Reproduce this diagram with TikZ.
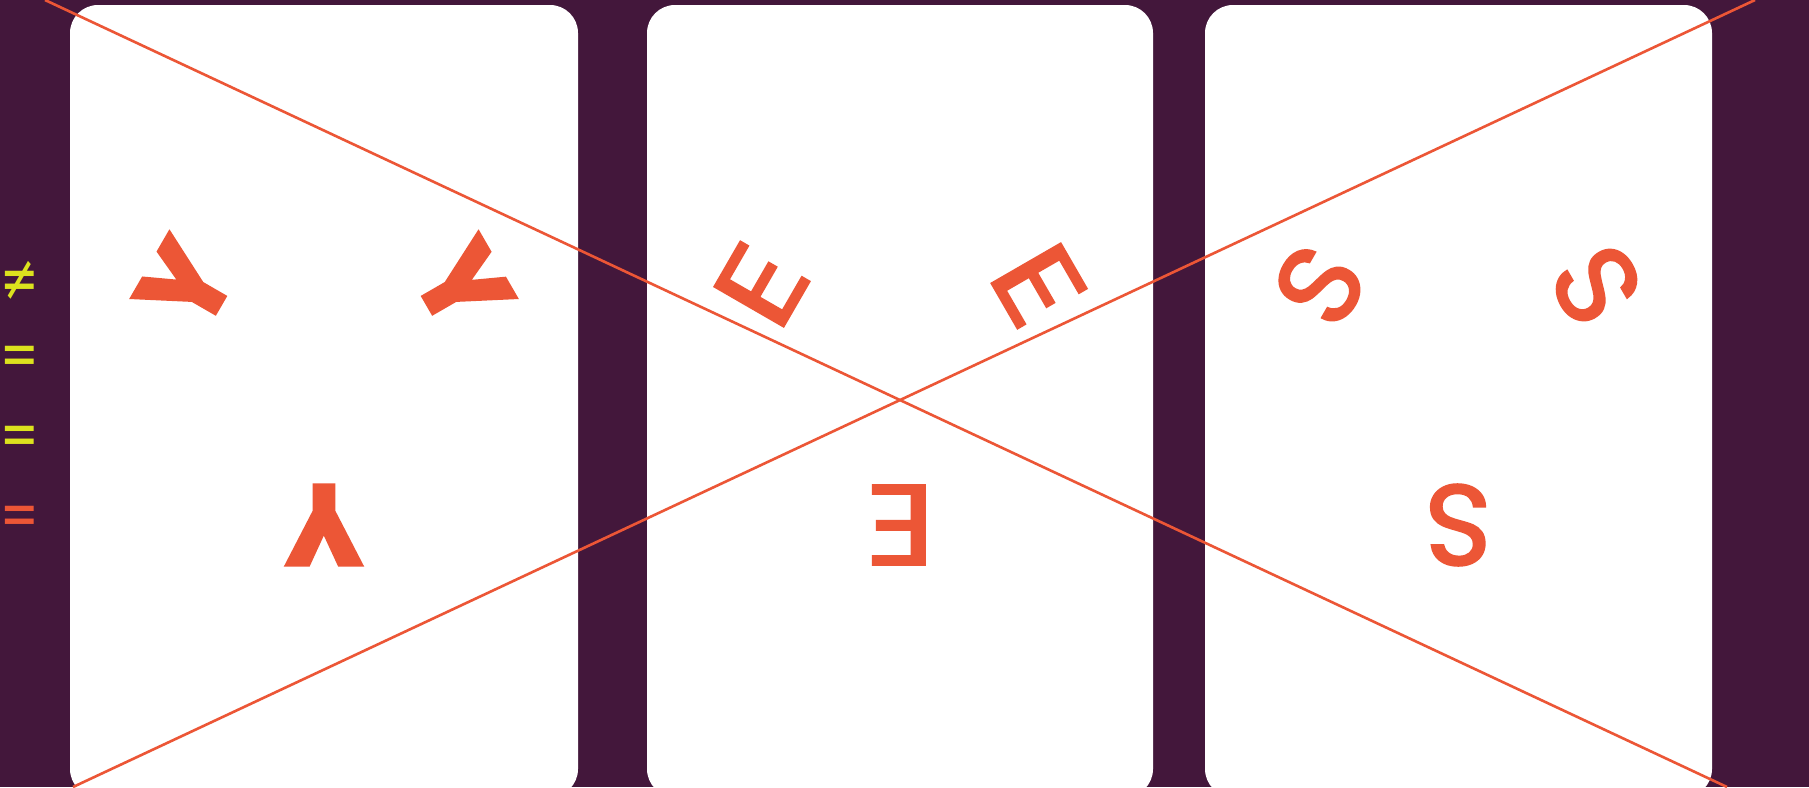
\documentclass[tikz,border=0pt]{standalone}
\usepackage{fontspec}
\setmainfont{Poppins}
\newfontfamily\heavyfont{Poppins}[BoldFeatures={FakeBold=3}]
\newfontfamily\midfont{Poppins}[FakeBold=2]
\newfontfamily\symfont{DejaVu Sans}
\definecolor{plum}{HTML}{43173B}
\definecolor{coral}{HTML}{EC5636}
\definecolor{lime}{HTML}{DCE21E}
\newcommand{\wideE}{\scalebox{1.2}[1]{E}}

\begin{document}
\begin{tikzpicture}[x=1pt, y=-1pt, every node/.style={inner sep=0pt},
    card/.style={fill=white, rounded corners=28pt},
    glyph/.style={text=coral, font=\fontsize{114}{114}\selectfont},
    sign/.style={font=\symfont\itshape\fontsize{46}{46}\selectfont},
    cross/.style={draw=coral, line width=2.6pt}]

  % Background and page size
  \fill[plum] (0,0) rectangle (1809,787);
  \useasboundingbox (0,0) rectangle (1809,787);

  % Three cards
  \fill[card] (70,5) rectangle (578,797);
  \fill[card] (647,5) rectangle (1153,797);
  \fill[card] (1205,5) rectangle (1712,797);

  % Letters turned round each card's centre
  \foreach \ch/\cx/\fnt/\txt in {Y/324/\heavyfont\bfseries/Y, E/900/\midfont/\wideE, S/1458/\midfont/S} {
    \foreach \ang/\pos in {150/left, 30/right, 270/bottom}
      \node[glyph, rotate=\ang-90] (\ch-\pos)
        at ({\cx+160*cos(\ang)}, {365-160*sin(\ang)}) {\fnt\txt};
  }

  % Signs on the left edge
  \node[sign, text=lime] (neq) at (20,281) {\scalebox{1}[1.4]{≠}};
  \node[sign, text=lime] (eq-one) at (20,361) {\scalebox{1}[1.4]{=}};
  \node[sign, text=lime] (eq-two) at (20,441) {\scalebox{1}[1.4]{=}};
  \node[sign, text=coral] (eq-three) at (20,521) {\scalebox{1}[1.4]{=}};

  % Crossing lines over all cards
  \coordinate (top-left) at (45,0);
  \coordinate (bottom-right) at (1727,787);
  \coordinate (bottom-left) at (73,787);
  \coordinate (top-right) at (1755,0);
  \draw[cross] (top-left) -- (bottom-right);
  \draw[cross] (bottom-left) -- (top-right);

\end{tikzpicture}
\end{document}
